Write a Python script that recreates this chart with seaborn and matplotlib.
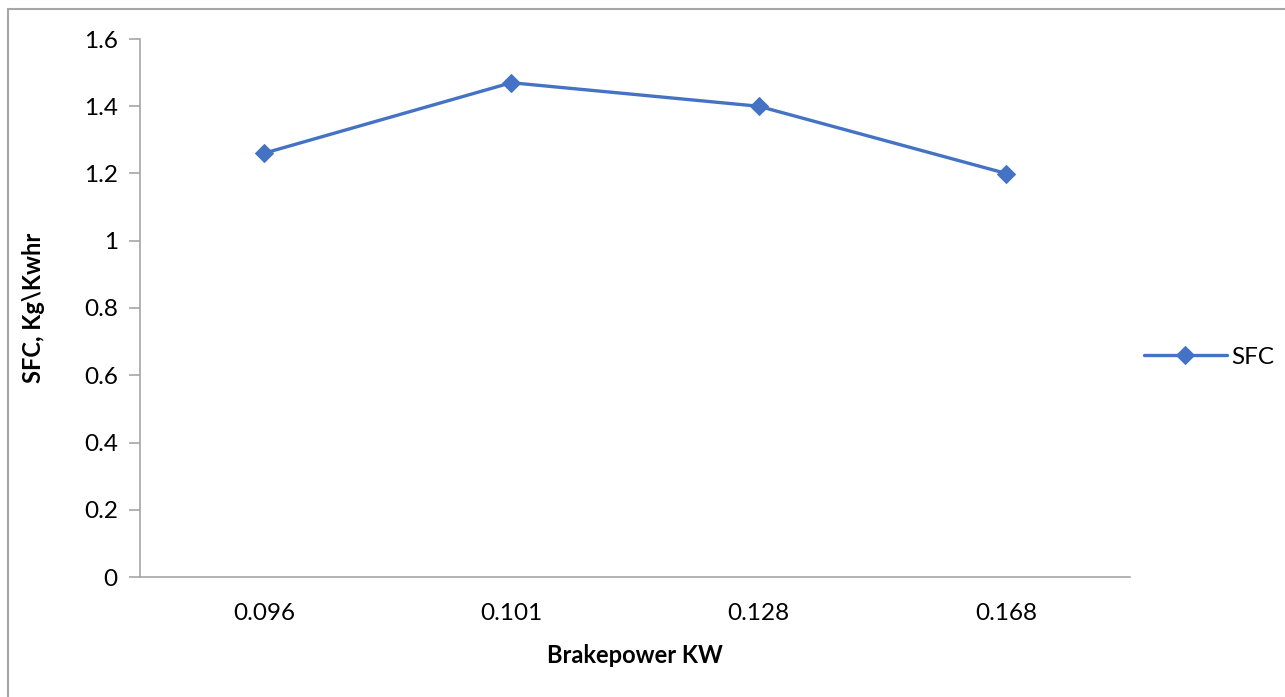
import numpy as np
import pandas as pd
import matplotlib
matplotlib.use('Agg')
import matplotlib.pyplot as plt
import seaborn as sns

# data
brake_power = ['0.096', '0.101', '0.128', '0.168']
sfc = [1.26, 1.47, 1.40, 1.20]

df = pd.DataFrame({'Brakepower KW': brake_power, 'SFC': sfc})

sns.set_style('white')
plt.rcParams['font.family'] = ['Lato', 'DejaVu Sans']
plt.rcParams['text.color'] = 'black'
plt.rcParams['xtick.color'] = 'black'
plt.rcParams['ytick.color'] = 'black'
plt.rcParams['axes.labelcolor'] = 'black'

fig = plt.figure(figsize=(12.85, 6.97), dpi=100)
ax = fig.add_axes([140 / 1285, 1 - 577 / 697, 990 / 1285, 538 / 697])

sns.lineplot(data=df, x='Brakepower KW', y='SFC', ax=ax, sort=False,
             color='#4472C4', linewidth=2.4, marker='D', markersize=9.5,
             markeredgecolor='#4472C4', label='SFC')

ax.set_xlim(-0.5, 3.5)
ax.set_ylim(0, 1.6)
ax.set_yticks(np.arange(0, 1.61, 0.2))
ax.set_yticklabels(['0', '0.2', '0.4', '0.6', '0.8', '1', '1.2', '1.4', '1.6'])

for s in ['top', 'right']:
    ax.spines[s].set_visible(False)
for s in ['left', 'bottom']:
    ax.spines[s].set_color('#A6A6A6')
    ax.spines[s].set_linewidth(1.2)

ax.tick_params(axis='y', which='both', left=True, length=8, width=1.2,
               color='#A6A6A6', labelcolor='black', labelsize=17.5, pad=8)
ax.tick_params(axis='x', bottom=False, labelcolor='black', labelsize=17.5, pad=15)

ax.set_xlabel('Brakepower KW', fontsize=17, fontweight='bold')
ax.set_ylabel('SFC, Kg\\Kwhr', fontsize=17, fontweight='bold')
ax.xaxis.set_label_coords(0.5, -0.145)
ax.xaxis.label.set_va('center')
ax.yaxis.set_label_coords(-0.108, 0.5)
ax.yaxis.label.set_va('center')

ax.legend(loc='center left', bbox_to_anchor=(1144 / 1285, 1 - 357 / 697),
          bbox_transform=fig.transFigure, frameon=False, fontsize=17.5,
          handlelength=3.4, handletextpad=0.2, borderpad=0, borderaxespad=0)

# chart frame (left and top edges visible in the reference)
fig.add_artist(plt.Line2D([7.5 / 1285, 7.5 / 1285], [0, 1 - 9 / 697],
                          color='#A6A6A6', linewidth=1.5))
fig.add_artist(plt.Line2D([7.5 / 1285, 1], [1 - 9 / 697, 1 - 9 / 697],
                          color='#A6A6A6', linewidth=1.5))

fig.savefig('out.png', dpi=100)
